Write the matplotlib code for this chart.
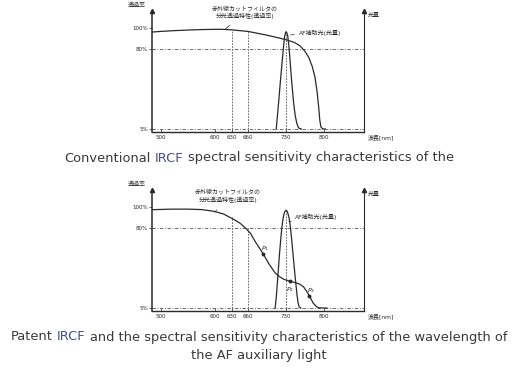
import matplotlib
matplotlib.use("Agg")
import matplotlib.pyplot as plt

plt.rcParams['font.family'] = ['DejaVu Sans', 'Noto Sans CJK JP']

# axis ticks
wl_ticks = [500, 600, 630, 660, 730, 800]
pct_ticks = [5, 80, 100]
pct_labels = ["5%", "80%", "100%"]

# conventional IRCF (top chart)
old_ir_nm = [484, 500, 520, 550, 580, 610, 630, 660, 690, 710, 730, 745, 755, 765, 772, 778, 783, 787, 790, 792, 794, 797, 802]
old_ir_pct = [96.2, 96.8, 97.4, 98.1, 98.6, 98.8, 98.3, 96.8, 93.8, 91.5, 89, 86.5, 83.5, 78, 72, 64, 54, 40, 25, 13, 7, 5.2, 5]
old_af_nm = [712, 716, 720, 724, 727, 729, 730, 731, 733, 735, 737, 740, 744, 747, 750, 753, 758]
old_af_pct = [5, 28, 52, 75, 91, 95.5, 96.5, 96, 93, 84, 72, 52, 29, 17, 10, 6, 5]
old_guides_nm = [630, 660, 730]
old_guides_top = [98.3, 96.8, 96.5]

# patent IRCF (bottom chart)
new_ir_nm = [485, 520, 550, 575, 597, 615, 630, 645, 656, 665, 674, 688, 698, 710, 718, 726, 738, 748, 755, 762, 768, 773, 780, 786, 790, 796, 805]
new_ir_pct = [97.5, 98, 98, 97.6, 96, 93.5, 89.5, 85, 80, 75, 67, 56, 47, 38, 34.5, 32, 30, 28.7, 27.5, 25, 20.5, 16.2, 9.5, 6.3, 5.3, 5, 5]
new_af_nm = [710, 712, 714, 716, 718, 720, 722, 724, 726, 728, 730, 732, 734, 736, 738, 740, 742, 744, 746, 748, 750, 752, 754, 757]
new_af_pct = [5, 15, 28, 42, 56, 68, 79, 87.5, 93, 96, 97, 96, 93, 88.5, 81, 71, 60, 49, 38, 28, 18, 10, 6, 5]
new_guides_nm = [630, 660, 730]
new_guides_top = [91, 80, 97]
p_nm = [688, 738, 773]
p_pct = [56, 30, 16.2]
p_names = ["$P_1$", "$P_2$", "$P_3$"]

ink = '#2a2a2a'
fig = plt.figure(figsize=(5.17, 3.68), dpi=100)


def chart(bottom, ir_nm, ir_pct, af_nm, af_pct, g_nm, g_top, ir_lab, af_lab):
    ax = fig.add_axes([0.294, bottom, 0.410, 0.3288])
    ax.set_xlim(484, 873)
    ax.set_ylim(2.2, 116)
    ax.spines['top'].set_visible(False)
    ax.spines['left'].set_linewidth(1.1)
    ax.spines['right'].set_linewidth(0.8)
    ax.spines['bottom'].set_linewidth(1.0)
    for s in ['left', 'right', 'bottom']:
        ax.spines[s].set_color(ink)
    ax.set_xticks(wl_ticks)
    ax.set_xticklabels([str(v) for v in wl_ticks])
    ax.set_yticks(pct_ticks)
    ax.set_yticklabels(pct_labels)
    ax.tick_params(labelsize=4, length=2, width=0.5, pad=2, colors=ink, direction='in')
    ax.tick_params(axis='y', direction='out', pad=1)

    ax.axhline(80, color='#555', lw=0.6, ls=(0, (4, 2, 1, 2)))
    ax.axhline(5, color='#555', lw=0.6, ls=(0, (4, 2, 1, 2)))
    for n, t in zip(g_nm, g_top):
        ax.plot([n, n], [2.2, t], color='#555', lw=0.6, ls=(0, (2, 1.5)))

    ax.plot(ir_nm, ir_pct, color=ink, lw=0.9)
    ax.plot(af_nm, af_pct, color=ink, lw=0.9)

    # axis arrows
    ax.plot([0, 1], [1, 1], ls='none', marker='^', ms=3, color=ink,
            transform=ax.transAxes, clip_on=False)
    ax.text(-0.073, 1.05, "透過率", transform=ax.transAxes, fontsize=4.3,
            ha='center', va='center', color=ink)
    ax.text(1.045, 0.967, "光量", transform=ax.transAxes, fontsize=4.3,
            ha='center', va='center', color=ink)
    ax.text(1.019, -0.05, "波長[nm]", transform=ax.transAxes, fontsize=4.3,
            ha='left', va='center', color=ink)

    ax.annotate("赤外線カットフィルタの\n分光透過特性(透過率)", xy=ir_lab[0], xytext=ir_lab[1],
                fontsize=4.3, ha='center', va='center', color=ink, linespacing=1.3,
                arrowprops=dict(arrowstyle='-', lw=0.5, color=ink, shrinkA=4, shrinkB=0))
    ax.annotate("AF補助光(光量)", xy=af_lab[0], xytext=af_lab[1],
                fontsize=4.3, ha='left', va='center', color=ink,
                arrowprops=dict(arrowstyle='-', lw=0.5, color=ink, shrinkA=1, shrinkB=0))
    return ax


chart(0.6413, old_ir_nm, old_ir_pct, old_af_nm, old_af_pct, old_guides_nm, old_guides_top,
      ((618, 98.8), (655, 115)), ((738, 93.5), (753, 95.6)))
ax2 = chart(0.1549, new_ir_nm, new_ir_pct, new_af_nm, new_af_pct, new_guides_nm, new_guides_top,
            ((600, 95.5), (623, 110.5)), ((735, 86), (747, 90.6)))
ax2.plot(p_nm, p_pct, ls='none', marker='o', ms=1.8, color=ink)
for n, v, name, dx, dy in zip(p_nm, p_pct, p_names, [3, -1, 3], [5, -8, 5]):
    ax2.text(n + dx, v + dy, name, fontsize=4.5, color=ink, ha='center', va='center')

# captions with coloured IRCF
fig.canvas.draw()
r = fig.canvas.get_renderer()


def width(s):
    t = fig.text(0, 0, s, fontsize=9.4)
    w = t.get_window_extent(r).width
    t.remove()
    return w


def caption(parts, y):
    full = "".join(p[0] for p in parts)
    x0 = 259 - width(full) / 2
    prefix = ""
    for txt, col in parts:
        word = txt.strip()
        lead = txt[:len(txt) - len(txt.lstrip())]
        x = width(prefix + lead + word) - width(word) if prefix or lead else 0
        fig.text((x0 + x) / 517, y, word, fontsize=9.4, color=col, va='center', ha='left')
        prefix += txt


gray = '#3a3a3a'
blue = '#46508a'
caption([("Conventional", gray), (" IRCF", blue), (" spectral sensitivity characteristics of the", gray)],
        1 - 158 / 368)
caption([("Patent", gray), (" IRCF", blue), (" and the spectral sensitivity characteristics of the wavelength of", gray)],
        1 - 337 / 368)
caption([("the AF auxiliary light", gray)], 1 - 355 / 368)

fig.savefig("out.png", dpi=100)
